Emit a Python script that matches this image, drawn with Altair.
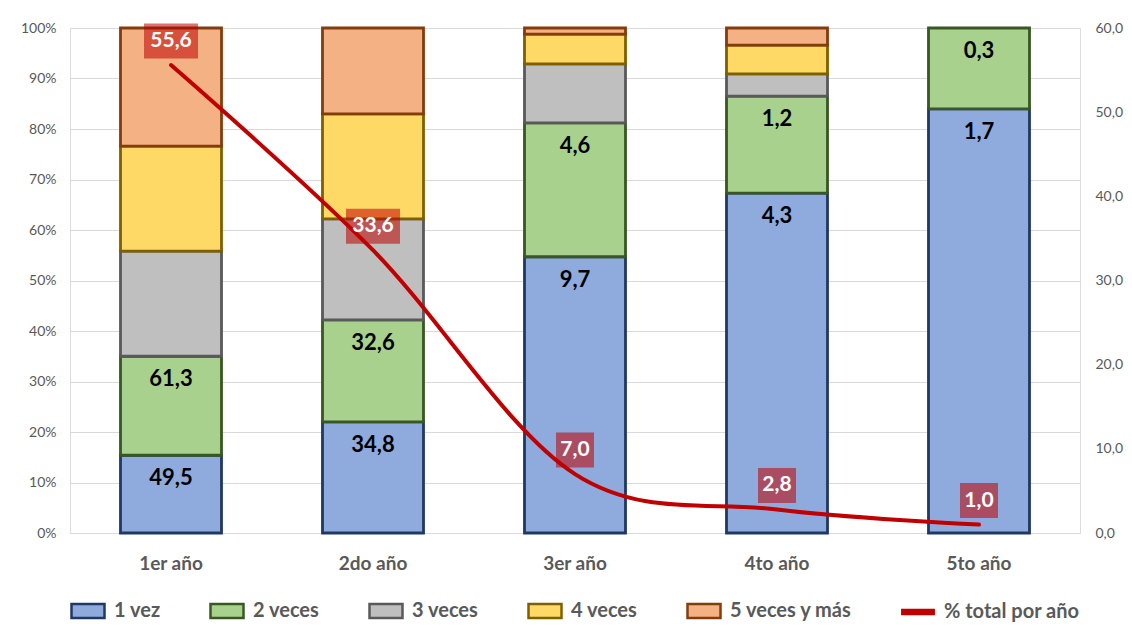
import altair as alt
import pandas as pd

years = ["1er año", "2do año", "3er año", "4to año", "5to año"]
series = ["1 vez", "2 veces", "3 veces", "4 veces", "5 veces y más"]
line_name = "% total por año"

share_1_vez = [15.4, 22.0, 54.7, 67.3, 84.0]
share_2_veces = [19.6, 20.2, 26.5, 19.2, 16.0]
share_3_veces = [20.8, 20.0, 11.7, 4.4, 0.0]
share_4_veces = [20.8, 20.8, 5.9, 5.7, 0.0]
share_5_veces = [23.4, 17.0, 1.2, 3.4, 0.0]

label_1_vez = ["49,5", "34,8", "9,7", "4,3", "1,7"]
label_2_veces = ["61,3", "32,6", "4,6", "1,2", "0,3"]

total_por_anio = [55.6, 33.6, 7.0, 2.8, 1.0]
total_labels = ["55,6", "33,6", "7,0", "2,8", "1,0"]

fills = ["#8FAADC", "#A9D18E", "#BFBFBF", "#FFD966", "#F4B183"]
strokes = ["#203864", "#385723", "#595959", "#7F6000", "#843C0C"]
red = "#C00000"
FONT = "Lato"

shares = [share_1_vez, share_2_veces, share_3_veces, share_4_veces, share_5_veces]
labels = [label_1_vez, label_2_veces, [""] * 5, [""] * 5, [""] * 5]
rows = []
for si, s in enumerate(series):
    for yi, yr in enumerate(years):
        rows.append({"year": yr, "serie": s, "order": si, "share": shares[si][yi], "lbl": labels[si][yi]})
df_bars = pd.DataFrame(rows)
df_line = pd.DataFrame({"year": years, "total": total_por_anio, "lbl": total_labels})

x_enc = alt.X("year:N", sort=years, title=None,
              scale=alt.Scale(paddingInner=0.5, paddingOuter=0.25),
              axis=alt.Axis(labelFontSize=19, labelFontWeight="bold", labelColor="#595959",
                            labelAngle=0, ticks=False, domain=False, labelPadding=21, grid=False,
                            labelFont=FONT))

rect_shape = "M-1,-0.42L1,-0.42L1,0.42L-1,0.42Z"
line_shape = "M-0.95,-0.12L0.95,-0.12L0.95,0.12L-0.95,0.12Z"
shape_expr = "datum.label === '% total por año' ? '" + line_shape + "' : '" + rect_shape + "'"
legend_def = alt.Legend(
    title=None, orient="bottom", direction="horizontal",
    symbolType=alt.ExprRef(shape_expr), symbolSize=1089, symbolStrokeWidth=2.5,
    labelFontSize=20, labelFontWeight="bold", labelColor="#595959", labelFont=FONT,
    columnPadding=44, labelOffset=8, offset=20,
)

dom = series + [line_name]
color_enc = alt.Color("serie:N", scale=alt.Scale(domain=dom, range=fills + [red]), legend=legend_def)
stroke_enc = alt.Stroke("serie:N", scale=alt.Scale(domain=dom, range=strokes + [red]), legend=legend_def)

base = alt.Chart(df_bars).transform_stack(
    stack="share", as_=["y0", "y1"], groupby=["year"], sort=[alt.SortField("order", order="ascending")]
)

left_axis = alt.Axis(values=list(range(0, 101, 10)), labelExpr="datum.value + '%'",
                     ticks=False, domain=False, labelPadding=14, labelFontSize=14,
                     labelColor="#595959", labelFont=FONT, grid=True, gridColor="#D9D9D9")
y_left = alt.Y("y0:Q", scale=alt.Scale(domain=[0, 100]), title=None, axis=left_axis)

bars = base.transform_filter("datum.share > 0").mark_bar(strokeWidth=2.8).encode(
    x=x_enc, y=y_left, y2="y1:Q", color=color_enc, stroke=stroke_enc
)

bar_text = base.transform_filter("datum.lbl != ''").mark_text(
    fontSize=22, fontWeight="bold", color="black", font=FONT, dy=23, baseline="middle"
).encode(x=x_enc, y=alt.Y("y1:Q", scale=alt.Scale(domain=[0, 100]), title=None, axis=left_axis), text="lbl:N")

left = alt.layer(bars, bar_text)

y_right = alt.Y("total:Q", scale=alt.Scale(domain=[0, 60]), title=None,
                axis=alt.Axis(orient="right", values=list(range(0, 61, 10)),
                              labelExpr="replace(format(datum.value, '.1f'), '.', ',')",
                              ticks=False, domain=False, labelPadding=15, labelFontSize=14,
                              labelColor="#595959", labelFont=FONT, grid=False))

lbase = alt.Chart(df_line)
line = lbase.mark_line(color=red, strokeWidth=4, interpolate="cardinal", strokeCap="round").encode(x=x_enc, y=y_right)
box4 = lbase.transform_filter("length(datum.lbl) == 4").mark_point(
    shape="M-1,-0.65L1,-0.65L1,0.65L-1,0.65Z", size=54 * 54, filled=True, color=red,
    fillOpacity=0.55, strokeWidth=0, yOffset=-24
).encode(x=x_enc, y=y_right)
box3 = lbase.transform_filter("length(datum.lbl) == 3").mark_point(
    shape="M-1,-0.92L1,-0.92L1,0.92L-1,0.92Z", size=38 * 38, filled=True, color=red,
    fillOpacity=0.55, strokeWidth=0, yOffset=-24
).encode(x=x_enc, y=y_right)
ltext = lbase.mark_text(fontSize=21, fontWeight="bold", color="white", font=FONT,
                        yOffset=-24, baseline="middle").encode(x=x_enc, y=y_right, text="lbl:N")
right = alt.layer(line, box4, box3, ltext)

chart = alt.layer(left, right).resolve_scale(y="independent").properties(
    width=1010, height=505, padding={"left": 12, "top": 13, "right": 0, "bottom": 0}
).configure_view(stroke=None).configure(font=FONT)

chart.save("out.html", embed_options={"renderer": "svg", "actions": False})
